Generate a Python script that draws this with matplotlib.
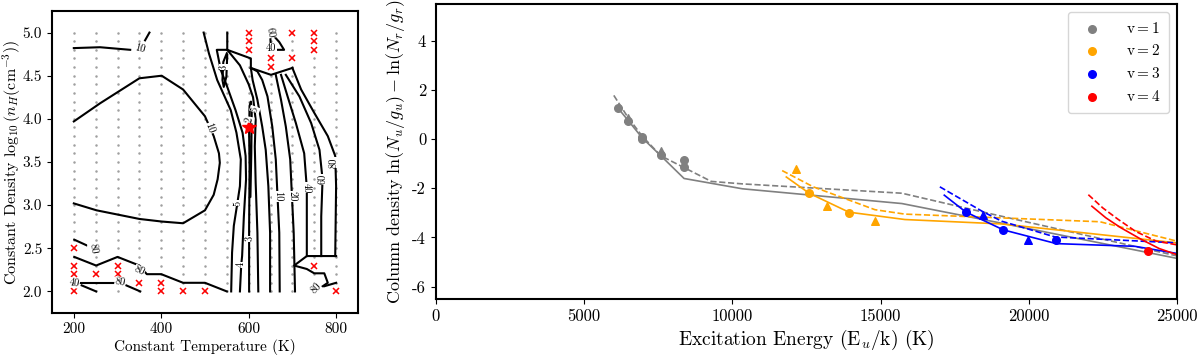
import numpy as np
import matplotlib
matplotlib.use('Agg')
import matplotlib.pyplot as plt

plt.rcParams['font.family'] = ['cmr10', 'DejaVu Serif']
plt.rcParams['mathtext.fontset'] = 'cm'
plt.rcParams['axes.unicode_minus'] = False
plt.rcParams['axes.formatter.use_mathtext'] = False

# ---------- left panel: grid, rejected models, best fit ----------
temps = [200, 250, 300, 350, 400, 450, 500, 550, 600, 650, 700, 750, 800]
dens = np.round(np.linspace(2.0, 5.0, 31), 1)

bad_T = [200, 200, 200, 200, 250, 300, 300, 350, 400, 400, 450, 500,
         600, 600, 600, 650, 650, 700, 700, 750, 750, 750, 750, 800]
bad_n = [2.5, 2.3, 2.2, 2.0, 2.2, 2.3, 2.2, 2.1, 2.1, 2.0, 2.0, 2.0,
         5.0, 4.9, 4.8, 4.7, 4.6, 5.0, 4.7, 5.0, 4.9, 4.8, 2.3, 2.0]
best_T, best_n = 600, 3.9

# contour lines (T, log nH)
contours = [
    ([200, 260, 329], [4.82, 4.83, 4.80]),
    ([363, 373], [4.91, 5.0]),
    ([200, 260, 350, 401, 450, 500, 520, 532, 534, 529, 520, 500, 450, 401, 350, 252, 200],
     [3.97, 4.18, 4.47, 4.50, 4.34, 4.03, 3.80, 3.60, 3.49, 3.30, 3.12, 2.94, 2.79, 2.81, 2.84, 2.94, 3.02]),
    ([201, 229], [2.60, 2.535]),
    ([201, 251, 300, 350, 367, 400, 450, 500, 550], [2.40, 2.30, 2.40, 2.30, 2.20, 2.20, 2.10, 2.10, 2.0]),
    ([200, 300], [2.10, 2.10]),
    ([218, 251], [2.07, 2.0]),
    ([320, 352], [2.07, 2.0]),
    ([497, 509, 528, 559, 572, 582, 580, 574, 566, 562, 560],
     [5.0, 4.76, 4.45, 4.10, 3.84, 3.53, 3.22, 3.02, 2.76, 2.45, 2.0]),
    ([580, 583, 585, 589, 594, 593, 586, 570, 551, 536, 527, 551, 551],
     [2.0, 2.31, 2.41, 2.87, 3.30, 3.57, 3.84, 4.10, 4.37, 4.57, 4.80, 4.80, 5.0]),
    ([550, 542, 540, 543, 549, 551], [4.76, 4.66, 4.45, 4.37, 4.49, 4.74]),
    ([601, 601, 602, 601, 602, 605, 607, 606, 604],
     [2.0, 2.72, 3.45, 3.84, 4.15, 4.20, 4.10, 3.6, 3.1]),
    ([622, 620, 616, 614, 616, 610, 600, 580, 551],
     [2.0, 2.68, 3.26, 3.68, 3.99, 4.25, 4.40, 4.62, 4.80]),
    ([649, 649, 645, 639, 631, 620, 609, 605, 605, 551],
     [2.0, 2.68, 3.22, 3.64, 3.91, 4.22, 4.45, 4.59, 4.70, 4.80]),
    ([671, 670, 666, 662, 654, 643, 631, 620, 605],
     [2.0, 2.68, 3.10, 3.53, 3.91, 4.26, 4.45, 4.55, 4.59]),
    ([706, 703, 699, 695, 685, 674, 662], [2.0, 2.68, 3.10, 3.53, 3.91, 4.22, 4.51]),
    ([605, 651, 700], [4.59, 4.51, 4.59]),
    ([733, 733, 733, 727, 708, 689, 674], [2.41, 2.87, 3.20, 3.60, 3.95, 4.26, 4.51]),
    ([766, 766, 769, 762, 743, 716, 685], [2.41, 2.87, 3.30, 3.64, 3.95, 4.26, 4.51]),
    ([700, 720, 750, 781, 798, 800, 798], [4.59, 4.34, 4.07, 3.80, 3.57, 3.22, 2.41]),
    ([800, 733, 704, 733, 750, 773, 781, 752], [2.41, 2.41, 2.30, 2.26, 2.21, 2.21, 2.10, 2.0]),
    ([773, 800], [2.06, 2.10]),
    ([649, 651, 681, 670, 654], [4.99, 4.80, 4.80, 4.89, 4.98]),
]

clabels = [
    (352, 4.81, '10', -15), (511, 3.89, '10', -70), (244, 2.50, '80', -80),
    (350, 2.24, '80', -25), (201, 2.10, '40', -10), (306, 2.11, '80', -10),
    (574, 3.02, '5', 90), (583, 2.31, '4', 90), (603, 2.61, '3', 90),
    (543, 4.60, '3', 90), (601, 3.99, '2', 80), (614, 4.11, '5', 70),
    (666, 3.10, '10', -90), (699, 3.10, '20', -90), (733, 3.20, '40', -90),
    (769, 3.30, '60', 90), (796, 3.49, '80', 90), (754, 2.03, '80', 45),
    (650, 5.00, '60', -80), (651, 4.82, '40', 0),
]

# ---------- right panel: excitation diagram ----------
v1_circ_E = [6150, 6470, 6960, 6960, 7590, 8370, 8370]
v1_circ_y = [1.28, 0.72, 0.08, 0.0, -0.65, -0.85, -1.15]
v1_tri_E = [6470, 7590]
v1_tri_y = [0.88, -0.48]
v1_sol_E = [6150, 6470, 6960, 7590, 8370, 10340, 15720, 19000, 25000]
v1_sol_y = [1.25, 0.78, 0.05, -0.68, -1.60, -2.02, -2.62, -3.40, -4.85]
v1_das_E = [6000, 6470, 6960, 7590, 9290, 10340, 15720, 18400, 25000]
v1_das_y = [1.78, 0.90, 0.12, -0.68, -1.72, -1.82, -2.20, -2.95, -4.75]

v2_circ_E = [12590, 13930]
v2_circ_y = [-2.20, -3.00]
v2_tri_E = [12140, 13200, 14810]
v2_tri_y = [-1.20, -2.73, -3.34]
v2_sol_E = [11820, 12590, 13930, 15820, 19090, 25000]
v2_sol_y = [-1.54, -2.20, -2.97, -3.27, -3.45, -4.22]
v2_das_E = [11680, 12730, 14810, 15820, 22400, 25000]
v2_das_y = [-1.28, -1.94, -2.87, -3.05, -3.36, -4.15]

v3_circ_E = [17870, 19140, 20930]
v3_circ_y = [-2.96, -3.69, -4.09]
v3_tri_E = [18450, 19990]
v3_tri_y = [-3.07, -4.09]
v3_sol_E = [17150, 17870, 19140, 20930, 23580, 25000]
v3_sol_y = [-2.28, -2.96, -3.69, -4.25, -4.36, -4.65]
v3_das_E = [17000, 18450, 19090, 20890, 25000]
v3_das_y = [-1.94, -2.95, -3.34, -3.98, -4.22]

v4_circ_E = [24020]
v4_circ_y = [-4.56]
v4_sol_E = [22130, 22600, 23100, 23800, 24400, 25000]
v4_sol_y = [-2.73, -3.20, -3.60, -4.08, -4.45, -4.70]
v4_das_E = [22010, 22500, 23000, 23600, 24300, 25000]
v4_das_y = [-2.26, -2.80, -3.25, -3.75, -4.15, -4.30]

fig = plt.figure(figsize=(12, 3.58), dpi=100)

ax1 = fig.add_axes([0.0433, 0.1257, 0.255, 0.8436])
TT, NN = np.meshgrid(temps, dens)
ax1.plot(TT.ravel(), NN.ravel(), '.', color='#a0a0a0', ms=1.6, ls='none')
for xs, ys in contours:
    ax1.plot(xs, ys, color='black', lw=1.5)
for x, y, s, r in clabels:
    ax1.text(x, y, s, fontsize=7.5, rotation=r, ha='center', va='center',
             bbox=dict(fc='white', ec='none', pad=0.3))
ax1.plot(bad_T, bad_n, 'x', color='red', ms=4.5, mew=1.1, ls='none')
ax1.plot(best_T, best_n, '*', color='red', ms=10)
ax1.set_xlim(150, 850)
ax1.set_ylim(1.75, 5.25)
ax1.set_xticks([200, 400, 600, 800])
ax1.set_yticks([2.0, 2.5, 3.0, 3.5, 4.0, 4.5, 5.0])
ax1.set_yticklabels(['2.0', '2.5', '3.0', '3.5', '4.0', '4.5', '5.0'])
ax1.tick_params(labelsize=11)
ax1.set_xlabel('Constant Temperature (K)', fontsize=11, labelpad=2)
ax1.set_ylabel(r'Constant Density $\log_{10}(n_H(\mathrm{cm}^{-3}))$', fontsize=11.5, labelpad=0)
for sp in ax1.spines.values():
    sp.set_linewidth(1.5)

ax2 = fig.add_axes([0.3633, 0.165, 0.6175, 0.824])
series = [
    ('gray', v1_circ_E, v1_circ_y, v1_tri_E, v1_tri_y, v1_sol_E, v1_sol_y, v1_das_E, v1_das_y, r'v$=$1'),
    ('orange', v2_circ_E, v2_circ_y, v2_tri_E, v2_tri_y, v2_sol_E, v2_sol_y, v2_das_E, v2_das_y, r'v$=$2'),
    ('blue', v3_circ_E, v3_circ_y, v3_tri_E, v3_tri_y, v3_sol_E, v3_sol_y, v3_das_E, v3_das_y, r'v$=$3'),
    ('red', v4_circ_E, v4_circ_y, [], [], v4_sol_E, v4_sol_y, v4_das_E, v4_das_y, r'v$=$4'),
]
for c, ce, cy, te, ty, se, sy, de, dy, lab in series:
    ax2.plot(se, sy, '-', color=c, lw=1.2)
    ax2.plot(de, dy, '--', color=c, lw=1.2)
    ax2.scatter(ce, cy, color=c, s=30, marker='o', label=lab, zorder=3)
    if te:
        ax2.scatter(te, ty, color=c, s=30, marker='^', zorder=3)
ax2.set_xlim(0, 25000)
ax2.set_ylim(-6.5, 5.5)
ax2.set_xticks([0, 5000, 10000, 15000, 20000, 25000])
ax2.set_yticks([-6, -4, -2, 0, 2, 4])
ax2.tick_params(labelsize=12)
ax2.set_xlabel(r'Excitation Energy (E$_u$/k) (K)', fontsize=14, labelpad=3)
ax2.set_ylabel(r'Column density $\ln(N_u/g_u) - \ln(N_r/g_r)$', fontsize=13, labelpad=4)
for sp in ax2.spines.values():
    sp.set_linewidth(1.5)
ax2.legend(loc='upper right', fontsize=11, handletextpad=1.2, borderpad=0.6)

fig.savefig('out.png', dpi=100)
